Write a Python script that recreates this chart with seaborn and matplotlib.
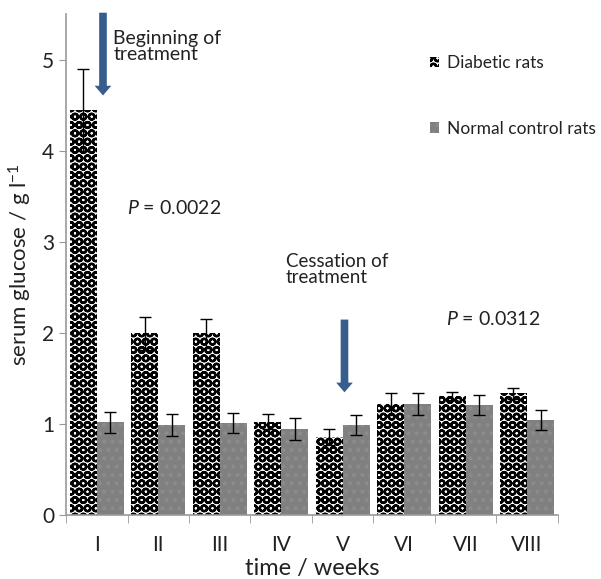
import numpy as np
import pandas as pd
import matplotlib
matplotlib.use("Agg")
import matplotlib.pyplot as plt
import seaborn as sns
from matplotlib.patches import Patch

weeks = ["I", "II", "III", "IV", "V", "VI", "VII", "VIII"]
diabetic = [4.45, 2.00, 2.00, 1.03, 0.86, 1.22, 1.31, 1.34]
diabetic_err = [0.45, 0.18, 0.16, 0.08, 0.09, 0.12, 0.04, 0.06]
normal = [1.02, 0.99, 1.01, 0.95, 0.99, 1.22, 1.21, 1.05]
normal_err = [0.115, 0.12, 0.11, 0.12, 0.11, 0.12, 0.11, 0.11]
groups = ["Diabetic rats", "Normal control rats"]

df = pd.DataFrame({
    "week": weeks * 2,
    "glucose": diabetic + normal,
    "group": [groups[0]] * len(weeks) + [groups[1]] * len(weeks),
    "err": diabetic_err + normal_err,
})

sns.set_style("white")
plt.rcParams['font.family'] = ['Lato', 'DejaVu Sans']
plt.rcParams['mathtext.fontset'] = 'custom'
plt.rcParams['mathtext.it'] = 'Lato:italic'
plt.rcParams['mathtext.rm'] = 'Lato'
plt.rcParams['hatch.linewidth'] = 1.7

fig = plt.figure(figsize=(6.01, 5.79), dpi=100)
ax = fig.add_axes([0.110, 0.110, 0.818, 0.865])

sns.barplot(data=df, x="week", y="glucose", hue="group", order=weeks,
            hue_order=groups, palette=["white", "#7f7f7f"], width=0.88,
            gap=0, errorbar=None, legend=False, ax=ax, saturation=1)

n = len(weeks)
bars = list(ax.patches)
for i, p in enumerate(bars):
    if i < n:
        p.set_facecolor("white")
        p.set_edgecolor("black")
        p.set_hatch("OO")
        p.set_linewidth(0)
    else:
        p.set_facecolor("#808080")
        p.set_edgecolor("#8c8c8c")
        p.set_hatch("..")
        p.set_linewidth(0)

for i, p in enumerate(bars):
    xc = p.get_x() + p.get_width() / 2
    yv = p.get_height()
    e = df["err"].iloc[i]
    ax.errorbar(xc, yv, yerr=e, fmt="none", ecolor="black", elinewidth=1.0,
                capsize=4, capthick=1.0, zorder=5)

ax.set_ylim(0, 5.5)
ax.set_xlim(-0.5, n - 0.5)
ax.set_yticks([0, 1, 2, 3, 4, 5])
ax.set_xticks(range(n))
ax.set_xticklabels(weeks)
ax.set_xticks(np.arange(-0.5, n, 1.0), minor=True)
ax.tick_params(axis="x", which="major", length=0, pad=14, labelsize=15, colors="#222222")
ax.tick_params(axis="x", which="minor", length=6, color="#999999", direction="out", bottom=True)
ax.tick_params(axis="y", length=5, color="#999999", direction="out", left=True, labelsize=15,
               labelcolor="#222222")
for s in ["top", "right"]:
    ax.spines[s].set_visible(False)
for s in ["left", "bottom"]:
    ax.spines[s].set_color("#999999")
    ax.spines[s].set_linewidth(1.2)

ax.set_xlabel("time / weeks", fontsize=17, color="#222222", labelpad=2)
ax.set_ylabel("serum glucose / g l$^{\u2212 1}$", fontsize=16, color="#222222", labelpad=6)

arrow_color = "#375d8c"
astyle = "simple,head_width=1.2,head_length=0.7,tail_width=0.55"
ax.annotate("", xy=(0.10, 4.58), xytext=(0.10, 5.55),
            arrowprops=dict(arrowstyle=astyle, color=arrow_color, lw=0),
            annotation_clip=False)
ax.text(0.27, 5.33, "Beginning of\ntreatment", fontsize=14, color="#222222",
        va="top", ha="left", linespacing=0.9)
ax.annotate("", xy=(4.03, 1.32), xytext=(4.03, 2.18),
            arrowprops=dict(arrowstyle=astyle, color=arrow_color, lw=0))
ax.text(3.08, 2.88, "Cessation of\ntreatment", fontsize=13.5, color="#222222",
        va="top", ha="left", linespacing=0.9)

ax.text(0.49, 3.37, "$P$ = 0.0022", fontsize=14, color="#222222", va="center")
ax.text(5.68, 2.16, "$P$ = 0.0312", fontsize=14, color="#222222", va="center")

handles = [Patch(facecolor="white", edgecolor="black", hatch="OO", linewidth=0),
           Patch(facecolor="#808080", edgecolor="#8c8c8c", hatch="..", linewidth=0)]
ax.legend(handles, groups, loc="upper left", bbox_to_anchor=(0.708, 0.95),
          frameon=False, fontsize=12.5, handlelength=0.55, handleheight=0.55,
          handletextpad=0.45, labelspacing=2.85, labelcolor="#222222")

fig.savefig("out.png", dpi=100)
